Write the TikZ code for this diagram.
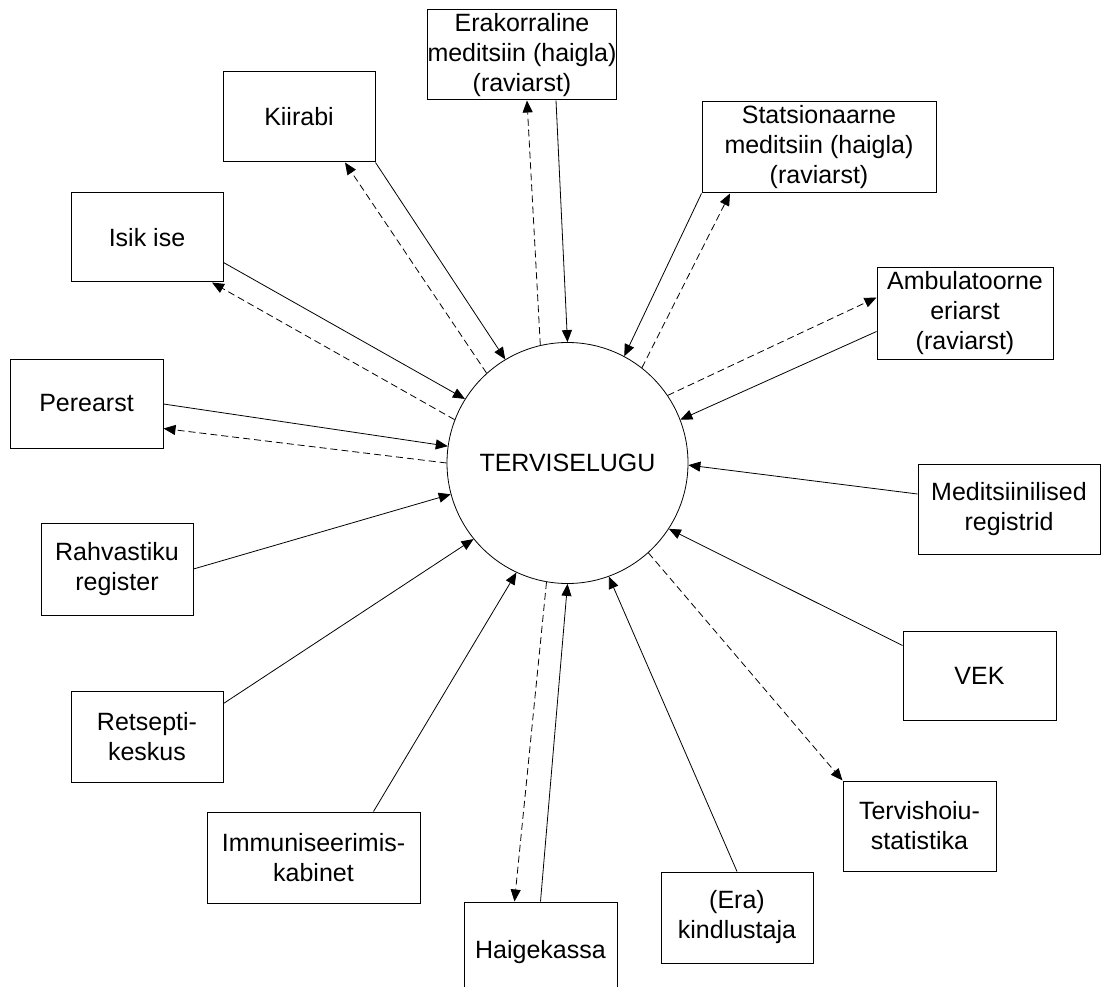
\documentclass[tikz,border=0pt]{standalone}
\usepackage{fontspec}
\setmainfont{Liberation Sans}
\usetikzlibrary{arrows.meta,calc}

\begin{document}
\begin{tikzpicture}[x=1pt,y=-1pt,
    box/.style={draw,line width=1pt,align=center,inner sep=0pt,
      minimum width=152pt,minimum height=90pt},
    feed/.style={line width=0.8pt,-{Triangle[length=12pt,width=10pt]}},
    back/.style={feed,dash pattern=on 7pt off 4pt}]
  \useasboundingbox (0,0) rectangle (1101,987);
  \fontsize{25}{30}\selectfont

  % centre
  \node[draw,circle,line width=0.8pt,minimum size=241pt,inner sep=0pt] (tl) at (567.5,463) {TERVISELUGU};

  % boxes, clockwise from the top
  \node[box,minimum width=178pt] (erak) at (522,55) {Erakorraline\\meditsiin (haigla)\\(raviarst)};
  \node[box,minimum width=234pt,minimum height=91pt] (stats) at (819,147.5) {Statsionaarne\\meditsiin (haigla)\\(raviarst)};
  \node[box,minimum width=176pt,minimum height=91pt] (ambul) at (965,313.5) {Ambulatoorne\\eriarst\\(raviarst)};
  \node[box,minimum width=182pt] (medreg) at (1009,509) {Meditsiinilised\\registrid};
  \node[box,minimum width=153pt,minimum height=89pt] (vek) at (979.5,675.5) {VEK};
  \node[box,minimum width=153pt] (terv) at (919.5,826) {Tervishoiu-\\statistika};
  \node[box,minimum height=91pt] (kindl) at (737,917.5) {(Era)\\kindlustaja};
  \node[box,minimum width=153pt,minimum height=100pt] (haige) at (540.5,952) {Haigekassa};
  \node[box,minimum width=213pt,minimum height=91pt] (immun) at (313.5,857.5) {Immuniseerimis-\\kabinet};
  \node[box,minimum height=91pt] (retsepti) at (147,736.5) {Retsepti-\\keskus};
  \node[box,minimum height=92pt] (rahv) at (117,569) {Rahvastiku\\register};
  \node[box,minimum width=153pt,minimum height=89pt] (perearst) at (86.5,403.5) {Perearst};
  \node[box,minimum height=89pt] (isik) at (147,237.5) {Isik ise};
  \node[box] (kiirabi) at (299,117) {Kiirabi};

  % two-way links
  \draw[feed] ($(erak.south)+(34,0)$) -- (tl.90);
  \draw[back] (tl.103) -- ($(erak.south)+(5,0)$);
  \draw[feed] (stats.south west) -- (tl.62);
  \draw[back] (tl.52) -- ($(stats.south)+(-89,0)$);
  \draw[feed] ($(ambul.west)+(0,18)$) -- (tl.21);
  \draw[back] (tl.34) -- ($(ambul.west)+(0,-16)$);
  \draw[feed] (haige.north) -- (tl.270);
  \draw[back] (tl.260) -- ($(haige.north)+(-26,0)$);
  \draw[feed] ($(perearst.east)+(0,0.5)$) -- (tl.172);
  \draw[back] (tl.180) -- ($(perearst.east)+(0,25)$);
  \draw[feed] ($(isik.east)+(0,25)$) -- (tl.148);
  \draw[back] (tl.159) -- ($(isik.south)+(65,0)$);
  \draw[feed] (kiirabi.south east) -- (tl.121.5);
  \draw[back] (tl.132.5) -- ($(kiirabi.south)+(46,0)$);

  % one-way links
  \draw[feed] ($(medreg.west)+(0,-15)$) -- (tl.359);
  \draw[feed] ($(vek.west)+(0,-30)$) -- (tl.327);
  \draw[back] (tl.312) -- (terv.north west);
  \draw[feed] (kindl.north) -- (tl.290.5);
  \draw[feed] ($(immun.north)+(60,0)$) -- (tl.245);
  \draw[feed] ($(retsepti.east)+(0,-33)$) -- (tl.219.5);
  \draw[feed] (rahv.east) -- (tl.195);
\end{tikzpicture}
\end{document}
